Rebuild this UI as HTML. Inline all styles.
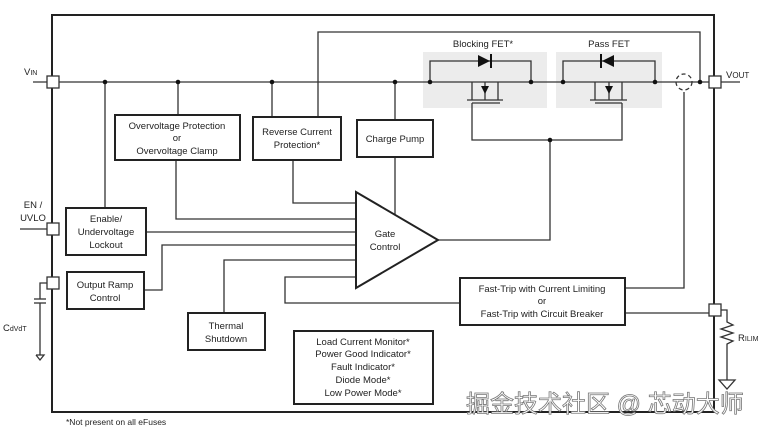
<!DOCTYPE html>
<html><head><meta charset="utf-8"><style>
html,body{margin:0;padding:0;background:#fff;}
svg{display:block;}
text{font-family:"Liberation Sans",Arial,sans-serif;fill:#222;}
</style></head><body>
<svg width="770" height="433" viewBox="0 0 770 433" xmlns="http://www.w3.org/2000/svg">
<rect width="770" height="433" fill="#fff"/>
<rect x="423" y="52" width="124" height="56" fill="#ececec"/>
<rect x="556" y="52" width="106" height="56" fill="#ececec"/>
<g fill="none" stroke="#333" stroke-width="1.3">
<line x1="33" y1="82" x2="740" y2="82"/>
<polyline points="318,117 318,32 700,32 700,82"/>
<line x1="105" y1="82" x2="105" y2="208"/>
<line x1="178" y1="82" x2="178" y2="115"/>
<line x1="272" y1="82" x2="272" y2="117"/>
<line x1="395" y1="82" x2="395" y2="120"/>
<line x1="395" y1="157" x2="395" y2="214"/>
<polyline points="176,160 176,219 356,219"/>
<polyline points="293,160 293,203 356,203"/>
<line x1="146" y1="232" x2="356" y2="232"/>
<polyline points="144,290 162,290 162,245 356,245"/>
<polyline points="224,313 224,260 356,260"/>
<polyline points="460,303 285,303 285,277 356,277"/>
<polyline points="438,240 550,240 550,140"/>
<polyline points="472,103 472,140 622,140 622,103"/>
<polyline points="625,288 684,288 684,92"/>
<line x1="625" y1="313" x2="715" y2="313"/>
<polyline points="430,82 430,61 531,61 531,82"/>
<polyline points="563,82 563,61 655,61 655,82"/>
<line x1="472" y1="82" x2="472" y2="100"/>
<line x1="498" y1="82" x2="498" y2="100"/>
<line x1="485" y1="82" x2="485" y2="100"/>
<line x1="467" y1="100" x2="503" y2="100"/>
<line x1="472" y1="103" x2="500" y2="103"/>
<line x1="595" y1="82" x2="595" y2="100"/>
<line x1="622" y1="82" x2="622" y2="100"/>
<line x1="609" y1="82" x2="609" y2="100"/>
<line x1="590" y1="100" x2="627" y2="100"/>
<line x1="595" y1="103" x2="622" y2="103"/>
<circle cx="684" cy="82" r="8" stroke-dasharray="4,3"/>
<polyline points="715,310 727,310 727,322 733,325 721,329 733,333 721,337 733,341 727,344 727,380"/>
<polygon points="719,380 735,380 727,389"/>
<polyline points="53,283 40,283 40,299"/>
<line x1="34" y1="299" x2="46" y2="299"/>
<line x1="34" y1="303" x2="46" y2="303"/>
<polyline points="40,303 40,355"/>
<polyline points="36,355 44,355 40,360 36,355"/>
<line x1="20" y1="229" x2="53" y2="229"/>
</g>
<rect x="52" y="15" width="662" height="397" fill="none" stroke="#222" stroke-width="2"/>
<g fill="#fff" stroke="#222" stroke-width="2">
<rect x="115" y="115" width="125" height="45"/>
<rect x="253" y="117" width="88" height="43"/>
<rect x="357" y="120" width="76" height="37"/>
<rect x="66" y="208" width="80" height="47"/>
<rect x="67" y="272" width="77" height="37"/>
<rect x="188" y="313" width="77" height="37"/>
<rect x="294" y="331" width="139" height="73"/>
<rect x="460" y="278" width="165" height="47"/>
<polygon points="356,192 356,288 438,240"/>
</g>
<g fill="#fff" stroke="#333" stroke-width="1.3">
<rect x="47" y="76" width="12" height="12"/>
<rect x="47" y="223" width="12" height="12"/>
<rect x="47" y="277" width="12" height="12"/>
<rect x="709" y="76" width="12" height="12"/>
<rect x="709" y="304" width="12" height="12"/>
</g>
<g fill="#111">
<circle cx="105" cy="82" r="2.3"/><circle cx="178" cy="82" r="2.3"/>
<circle cx="272" cy="82" r="2.3"/><circle cx="395" cy="82" r="2.3"/>
<circle cx="430" cy="82" r="2.3"/><circle cx="531" cy="82" r="2.3"/>
<circle cx="563" cy="82" r="2.3"/><circle cx="655" cy="82" r="2.3"/>
<circle cx="700" cy="82" r="2.3"/><circle cx="550" cy="140" r="2.3"/>
<polygon points="478,55 478,67 490,61"/>
<rect x="490" y="54" width="2" height="14"/>
<polygon points="614,55 614,67 602,61"/>
<rect x="600" y="54" width="2" height="14"/>
<polygon points="481,86 489,86 485,94"/>
<polygon points="605,86 613,86 609,94"/>
</g>
<g font-size="9.5" text-anchor="middle">
<text x="177" y="129">Overvoltage Protection</text>
<text x="177" y="141">or</text>
<text x="177" y="154">Overvoltage Clamp</text>
<text x="297" y="135">Reverse Current</text>
<text x="297" y="148">Protection*</text>
<text x="395" y="142">Charge Pump</text>
<text x="106" y="222">Enable/</text>
<text x="106" y="235">Undervoltage</text>
<text x="106" y="248">Lockout</text>
<text x="105" y="288">Output Ramp</text>
<text x="105" y="301">Control</text>
<text x="226" y="329">Thermal</text>
<text x="226" y="342">Shutdown</text>
<text x="363" y="345">Load Current Monitor*</text>
<text x="363" y="357">Power Good Indicator*</text>
<text x="363" y="370">Fault Indicator*</text>
<text x="363" y="383">Diode Mode*</text>
<text x="363" y="396">Low Power Mode*</text>
<text x="542" y="292">Fast-Trip with Current Limiting</text>
<text x="542" y="304">or</text>
<text x="542" y="317">Fast-Trip with Circuit Breaker</text>
<text x="483" y="47">Blocking FET*</text>
<text x="609" y="47">Pass FET</text>
<text x="385" y="237">Gate</text>
<text x="385" y="250">Control</text>
<text x="33" y="208">EN /</text>
<text x="33" y="221">UVLO</text>
</g>
<g font-size="9.5">
<text x="24" y="75">V<tspan font-size="7">IN</tspan></text>
<text x="726" y="78">V<tspan font-size="8">OUT</tspan></text>
<text x="738" y="341">R<tspan font-size="7">ILIM</tspan></text>
<text x="3" y="331">C<tspan font-size="7">dVdT</tspan></text>
<text x="66" y="425" font-size="8.5">*Not present on all eFuses</text>
</g>
<text x="466" y="412" font-size="24" stroke="#777" stroke-width="0.8" style="font-family:'Liberation Sans','Noto Sans CJK SC',sans-serif;fill:#fff">掘金技术社区 @ 芯动大师</text>
</svg>
</body></html>
